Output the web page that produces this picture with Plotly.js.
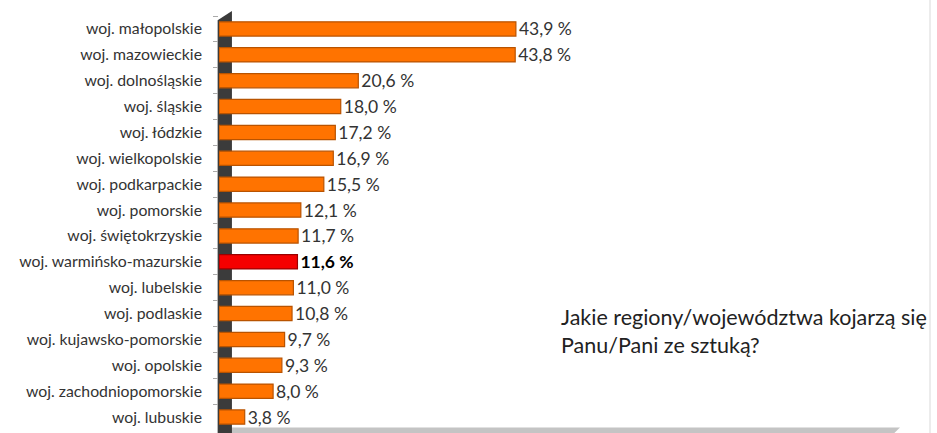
<!DOCTYPE html>
<html>
<head>
<meta charset="utf-8">
<script src="https://cdn.plot.ly/plotly-3.0.1.min.js"></script>
<style>html,body{margin:0;padding:0;background:#fff;}#chart{width:937px;height:433px;}</style>
</head>
<body>
<div id="chart"></div>
<script>
const categories = [
  "woj. małopolskie","woj. mazowieckie","woj. dolnośląskie","woj. śląskie",
  "woj. łódzkie","woj. wielkopolskie","woj. podkarpackie","woj. pomorskie",
  "woj. świętokrzyskie","woj. warmińsko-mazurskie","woj. lubelskie","woj. podlaskie",
  "woj. kujawsko-pomorskie","woj. opolskie","woj. zachodniopomorskie","woj. lubuskie"
];
const values = [43.9,43.8,20.6,18.0,17.2,16.9,15.5,12.1,11.7,11.6,11.0,10.8,9.7,9.3,8.0,3.8];
const highlighted = "woj. warmińsko-mazurskie";
const question = "Jakie regiony/województwa kojarzą się<br>Panu/Pani ze sztuką?";

const isHi = categories.map(c => c === highlighted);
const labels = values.map((v,i) => {
  const s = v.toFixed(1).replace('.', ',') + ' %';
  return isHi[i] ? '<b>' + s + '</b>' : s;
});

const trace = {
  type: 'bar',
  orientation: 'h',
  x: values,
  y: categories,
  text: labels,
  textposition: 'outside',
  constraintext: 'none',
  cliponaxis: false,
  textfont: {family: 'Lato, sans-serif', size: 17.5, color: isHi.map(h => h ? '#000' : '#333')},
  marker: {
    color: isHi.map(h => h ? '#f50000' : '#ff7300'),
    line: {color: isHi.map(h => h ? '#9a0000' : '#b95300'), width: 1.2}
  },
  width: 0.55,
  hoverinfo: 'skip'
};

const layout = {
  width: 937, height: 433,
  margin: {l: 219, r: 37, t: 16, b: 3},
  paper_bgcolor: '#fff', plot_bgcolor: 'rgba(0,0,0,0)',
  showlegend: false,
  xaxis: {range: [0, 100.7], visible: false, fixedrange: true},
  yaxis: {
    autorange: 'reversed',
    type: 'category',
    showline: false,
    showgrid: false,
    ticks: 'outside', ticklen: 5, tickcolor: '#aaa', tickwidth: 1,
    tickson: 'boundaries',
    ticklabelstandoff: 16,
    tickfont: {family: 'Lato, sans-serif', size: 15.8, color: '#333'},
    fixedrange: true
  },
  shapes: [
    {type: 'line', xref: 'paper', yref: 'paper', x0: 1.044, x1: 1.044, y0: -0.01, y1: 1.04,
     line: {color: '#ececec', width: 2}, layer: 'below'},
    {type: 'path', xref: 'paper', yref: 'paper', layer: 'below',
     path: 'M 0.004,-0.01 L 0.004,0.006 L 1.0,0.006 L 0.99,-0.01 Z',
     fillcolor: '#c4c4c4', line: {width: 0}},
    {type: 'path', xref: 'paper', yref: 'paper', layer: 'below',
     path: 'M -0.002,-0.01 L -0.002,0.99 L 0.019,1.012 L 0.019,-0.01 Z',
     fillcolor: '#3b3b3b', line: {width: 0}}
  ],
  annotations: [
    {xref: 'paper', yref: 'paper', x: 0.499, y: 0.308, xanchor: 'left', yanchor: 'top',
     text: question, showarrow: false, align: 'left',
     font: {family: 'Lato, sans-serif', size: 21.5, color: '#222'}}
  ]
};

Plotly.newPlot('chart', [trace], layout, {displayModeBar: false, staticPlot: true});
</script>
</body>
</html>
